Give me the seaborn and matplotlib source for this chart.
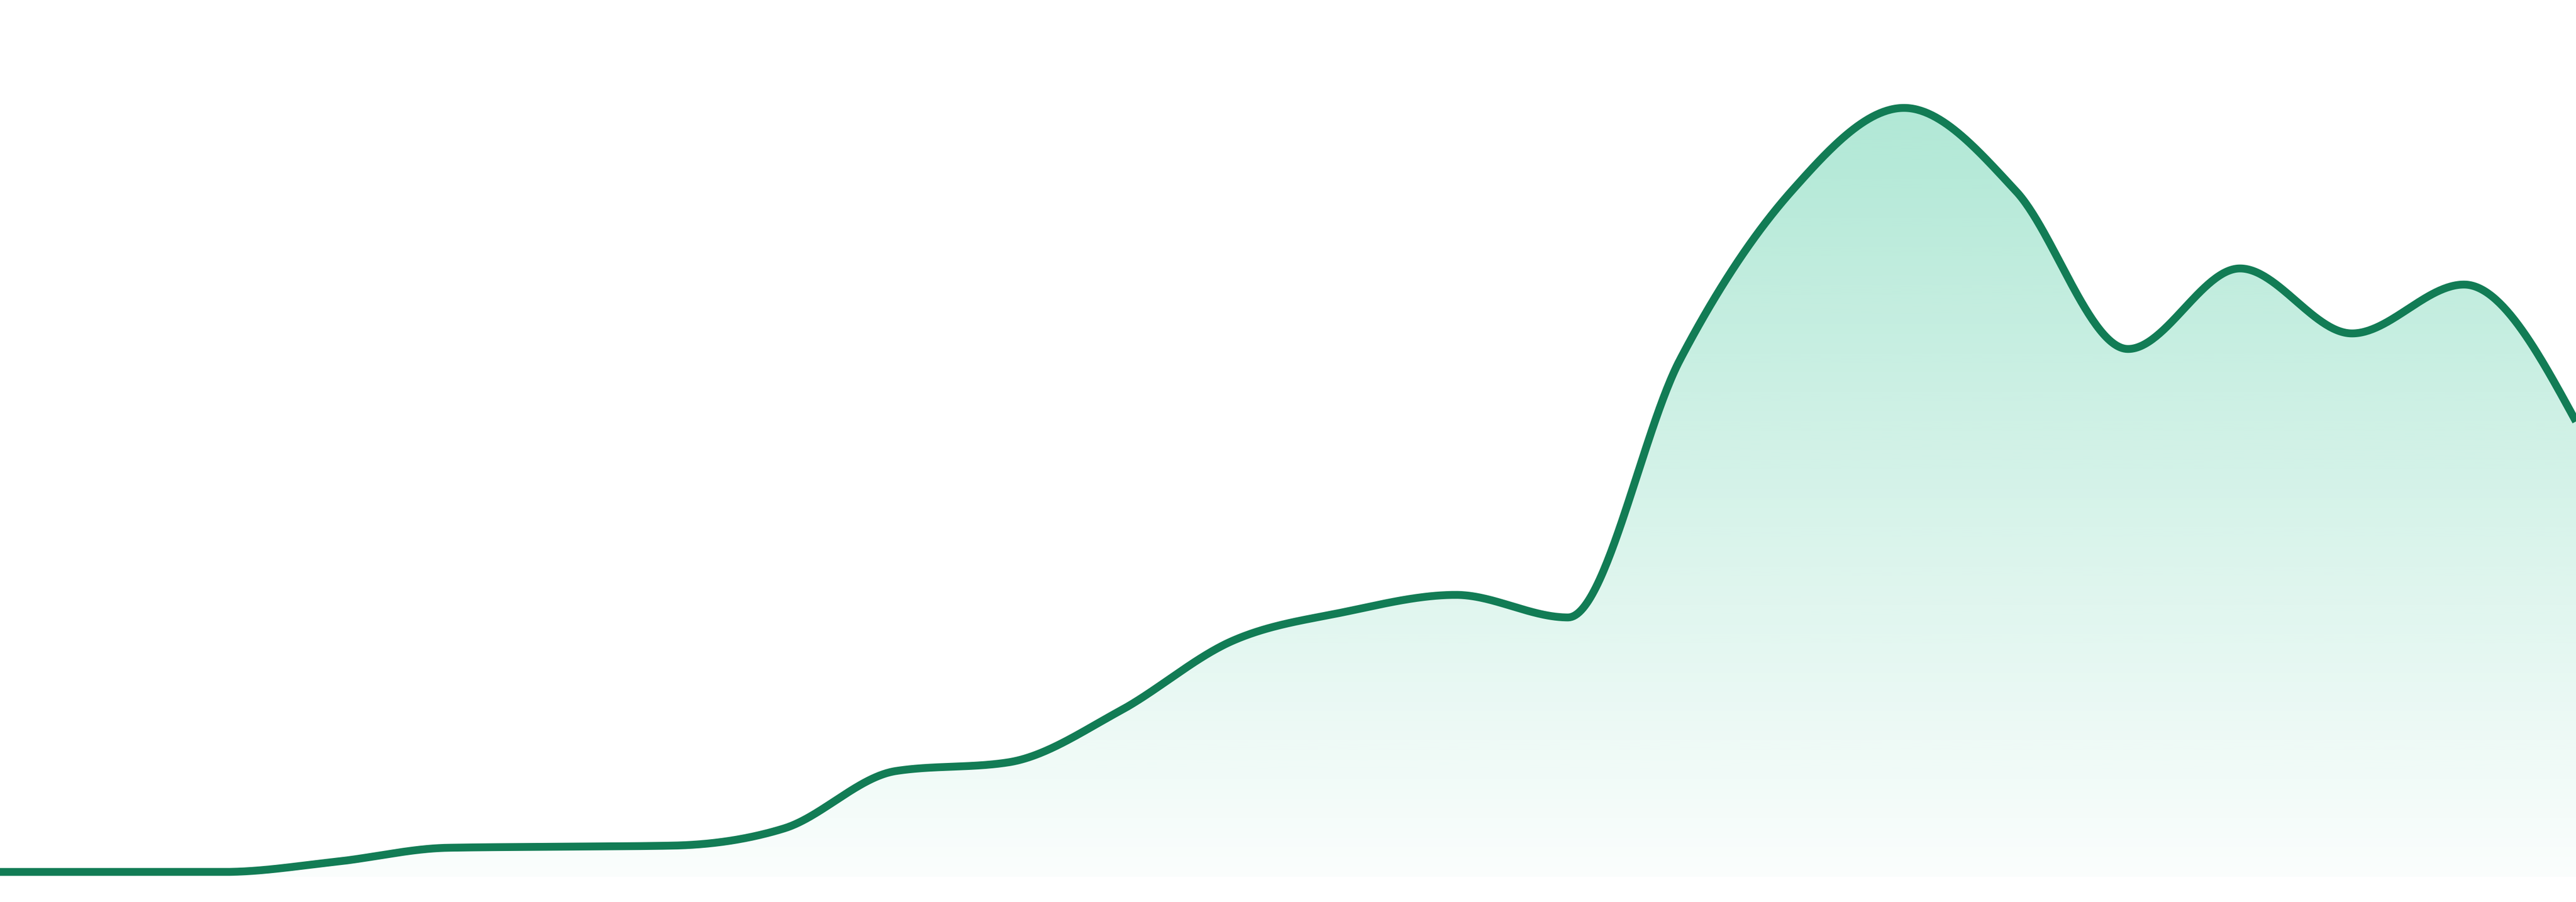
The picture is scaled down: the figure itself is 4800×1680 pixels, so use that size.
import numpy as np
import pandas as pd
import seaborn as sns
import matplotlib.pyplot as plt

# Valores (24 pontos igualmente espaçados)
days = list(range(24))
values = [0.9, 0.9, 0.9, 2.8, 5.4, 5.6, 5.8, 9.0, 19.7, 21.3, 30.9, 43.9,
          49.3, 52.5, 48.3, 96.3, 127.8, 143.2, 127.7, 98.3, 113.3, 101.2,
          110.3, 84.8]

line_color = "#127c55"
fill_color = (16 / 255, 185 / 255, 129 / 255)


# Curva monotona (mesma ideia do curveMonotoneX do d3)
def monotone_curve(x, y, n=60):
    x = np.asarray(x, float)
    y = np.asarray(y, float)
    h = np.diff(x)
    s = np.diff(y) / h
    t = np.zeros_like(y)
    for i in range(1, len(y) - 1):
        s0, s1 = s[i - 1], s[i]
        p = (s0 * h[i] + s1 * h[i - 1]) / (h[i - 1] + h[i])
        t[i] = (np.sign(s0) + np.sign(s1)) * min(abs(s0), abs(s1), 0.5 * abs(p))
    t[0] = (3 * s[0] - t[1]) / 2
    t[-1] = (3 * s[-1] - t[-2]) / 2
    xs, ys = [], []
    for i in range(len(h)):
        u = np.linspace(0, 1, n, endpoint=False)
        h00 = 2 * u**3 - 3 * u**2 + 1
        h10 = u**3 - 2 * u**2 + u
        h01 = -2 * u**3 + 3 * u**2
        h11 = u**3 - u**2
        xs.append(x[i] + u * h[i])
        ys.append(h00 * y[i] + h10 * h[i] * t[i] + h01 * y[i + 1] + h11 * h[i] * t[i + 1])
    xs.append([x[-1]])
    ys.append([y[-1]])
    return np.concatenate(xs), np.concatenate(ys)


def plot_area(days, values):
    sns.set_theme(style="white")
    fig = plt.figure(figsize=(48, 16.8), dpi=100)
    ax = fig.add_axes([0, 0, 1, 1])

    xs, ys = monotone_curve(days, values)
    df = pd.DataFrame({"day": xs, "value": ys})

    # Area com gradiente vertical
    area = ax.fill_between(df["day"], df["value"], 0, facecolor="none", edgecolor="none")
    top = max(values)
    alpha = np.linspace(0.33, 0.02, 256)[:, None]
    grad = np.zeros((256, 1, 4))
    grad[..., 0], grad[..., 1], grad[..., 2] = fill_color
    grad[..., 3] = alpha
    im = ax.imshow(grad, extent=[days[0], days[-1], 0, top], aspect="auto",
                   origin="upper", interpolation="bicubic", zorder=1)
    im.set_clip_path(area.get_paths()[0], transform=ax.transData)

    sns.lineplot(data=df, x="day", y="value", color=line_color, linewidth=10.5,
                 ax=ax, zorder=3, sort=False)
    for ln in ax.lines:
        ln.set_solid_capstyle("butt")

    ax.set_xlim(days[0], days[-1])
    ax.set_ylim(-4.7, 163.3)
    ax.axis("off")
    fig.savefig("out.png", dpi=100)


plot_area(days, values)
